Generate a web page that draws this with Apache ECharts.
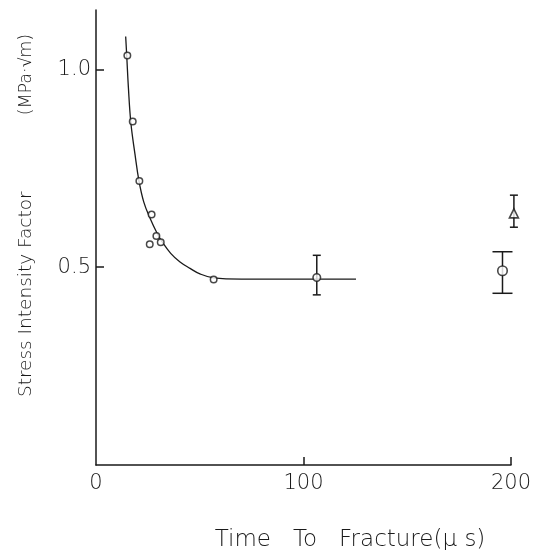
<!DOCTYPE html>
<html>
<head>
<meta charset="utf-8">
<script src="https://cdn.jsdelivr.net/npm/echarts@6/dist/echarts.min.js"></script>
<style>
html,body{margin:0;padding:0;background:#fff;}
#chart{width:542px;height:550px;}
</style>
</head>
<body>
<div id="chart"></div>
<script>
// Fitted curve
const curveX = [14.3, 14.8, 15.6, 16.8, 18.8, 20.7, 23.0, 26.0, 29.5, 32.0, 36.0, 40.5, 45.3, 50.1, 56.7, 70, 90, 106.4, 125.3];
const curveY = [1.083, 1.035, 0.955, 0.865, 0.785, 0.718, 0.665, 0.624, 0.585, 0.563, 0.535, 0.513, 0.497, 0.483, 0.473, 0.470, 0.470, 0.470, 0.470];

// Small open circles
const smallX = [15.1, 17.7, 20.9, 26.8, 29.1, 25.9, 31.2, 56.7];
const smallY = [1.035, 0.868, 0.718, 0.633, 0.579, 0.558, 0.563, 0.469];

// Open circles with error bars
const barCircleX = [106.4, 195.9];
const barCircleY = [0.474, 0.491];
const barCircleLow = [0.430, 0.434];
const barCircleHigh = [0.530, 0.539];

// Triangle with error bar
const triX = [201.4];
const triY = [0.636];
const triLow = [0.601];
const triHigh = [0.682];

// Tick labels
const xTickValues = [0, 100, 200];
const yTickValues = [0.5, 1.0];

const INK = '#1a1a1a';
const FONT = 'DejaVu Sans';

const curveData = curveX.map((x, i) => [x, curveY[i]]);
const smallData = smallX.map((x, i) => [x, smallY[i]]);
const barCircleData = barCircleX.map((x, i) => [x, barCircleY[i]]);
const triData = triX.map((x, i) => [x, triY[i]]);
const errData = barCircleX.map((x, i) => [x, barCircleLow[i], barCircleHigh[i]])
  .concat(triX.map((x, i) => [x, triLow[i], triHigh[i]]));
const capHalf = [4, 10, 4];

const chart = echarts.init(document.getElementById('chart'), null, {renderer: 'canvas'});
chart.setOption({
  backgroundColor: '#fff',
  animation: false,
  grid: {left: 96, right: 31, top: 10, bottom: 85, containLabel: false, outerBoundsMode: 'none'},
  xAxis: {
    type: 'value', min: 0, max: 200,
    name: 'Time   To   Fracture(μ s)',
    nameLocation: 'middle', nameGap: 64,
    nameTextStyle: {fontFamily: FONT, fontSize: 23, color: INK, fontWeight: 200, padding: [0, 0, 0, 93]},
    splitLine: {show: false},
    axisLine: {show: true, lineStyle: {color: INK, width: 1.5}},
    axisTick: {show: true, inside: true, length: 8, lineStyle: {color: INK, width: 1.5}, customValues: [100, 200]},
    axisLabel: {customValues: xTickValues, margin: 8, fontFamily: FONT, fontSize: 21, color: INK, fontWeight: 200,
      formatter: v => String(Math.round(v))}
  },
  yAxis: {
    type: 'value', min: 0, max: 1.15,
    name: '{a|Stress Intensity Factor}{b|(MPa·√m)}',
    nameLocation: 'middle', nameGap: 60,
    nameTextStyle: {padding: [0, 0, 0, 44],
      rich: {
        a: {fontFamily: FONT, fontSize: 18.5, color: INK, fontWeight: 200},
        b: {fontFamily: FONT, fontSize: 17.5, color: INK, fontWeight: 200, padding: [0, 0, 0, 76]}
      }},
    splitLine: {show: false},
    axisLine: {show: true, lineStyle: {color: INK, width: 1.5}},
    axisTick: {show: true, inside: true, length: 8, lineStyle: {color: INK, width: 1.5}, customValues: yTickValues},
    axisLabel: {customValues: yTickValues, margin: 5, fontFamily: FONT, fontSize: 21, color: INK, fontWeight: 200,
      formatter: v => v.toFixed(1)}
  },
  series: [
    {
      type: 'line', data: curveData, smooth: 0.4, showSymbol: false, symbol: 'none',
      lineStyle: {color: INK, width: 1.3}, z: 2, clip: false
    },
    {
      type: 'custom', data: errData, z: 3, clip: false,
      renderItem: function (params, api) {
        const x = api.value(0);
        const lo = api.coord([x, api.value(1)]);
        const hi = api.coord([x, api.value(2)]);
        const h = capHalf[params.dataIndex];
        const st = {stroke: INK, lineWidth: 1.5, fill: null};
        return {type: 'group', children: [
          {type: 'line', shape: {x1: lo[0], y1: lo[1], x2: hi[0], y2: hi[1]}, style: st},
          {type: 'line', shape: {x1: lo[0] - h, y1: lo[1], x2: lo[0] + h, y2: lo[1]}, style: st},
          {type: 'line', shape: {x1: hi[0] - h, y1: hi[1], x2: hi[0] + h, y2: hi[1]}, style: st}
        ]};
      }
    },
    {
      type: 'scatter', data: smallData, symbol: 'circle', symbolSize: 6.5, z: 5, clip: false,
      itemStyle: {color: '#fff', borderColor: INK, borderWidth: 1.5}
    },
    {
      type: 'scatter', data: barCircleData, symbol: 'circle', z: 5, clip: false,
      symbolSize: function (v, p) { return p.dataIndex === 0 ? 7.5 : 9.5; },
      itemStyle: {color: '#fff', borderColor: INK, borderWidth: 1.6}
    },
    {
      type: 'scatter', data: triData, symbol: 'triangle', symbolSize: 9, z: 5, clip: false,
      itemStyle: {color: '#fff', borderColor: INK, borderWidth: 1.6}
    }
  ]
});
</script>
</body>
</html>
